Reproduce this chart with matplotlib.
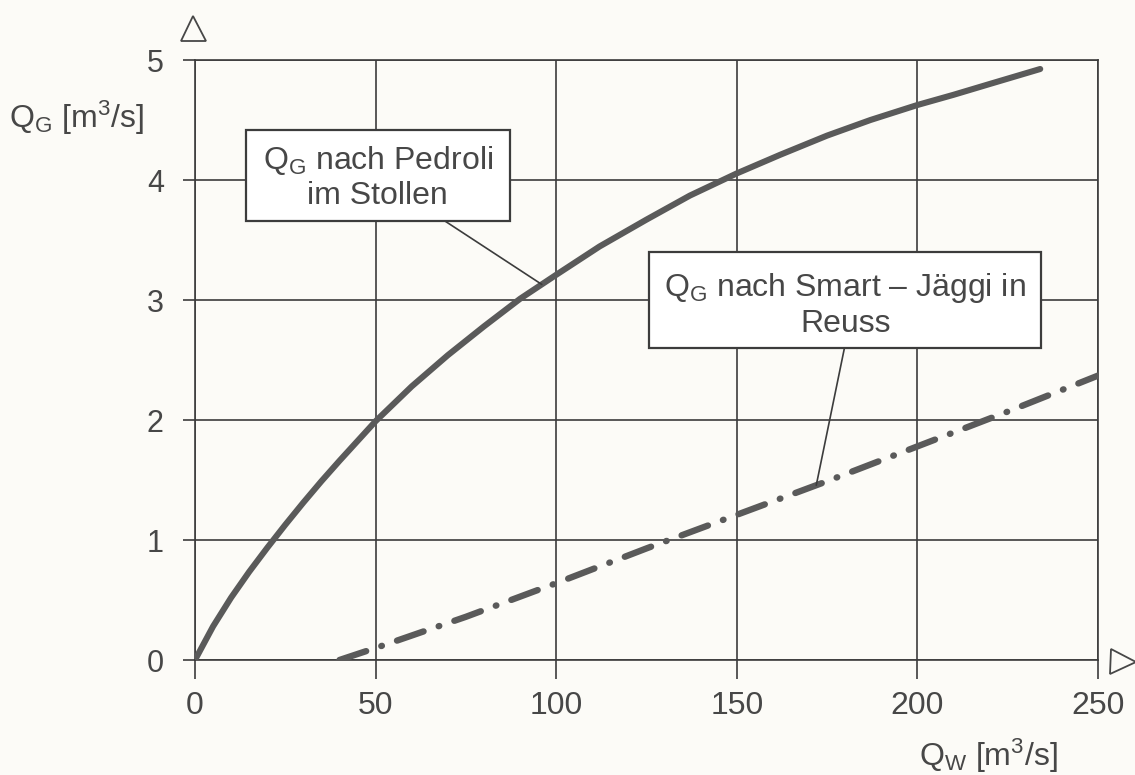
import numpy as np
import matplotlib
matplotlib.use("Agg")
import matplotlib.pyplot as plt
from matplotlib.patches import Rectangle

plt.rcParams['font.family'] = ['Liberation Sans', 'DejaVu Sans']
plt.rcParams['mathtext.fontset'] = 'custom'
plt.rcParams['mathtext.rm'] = 'Liberation Sans'
plt.rcParams['mathtext.it'] = 'Liberation Sans'
plt.rcParams['mathtext.bf'] = 'Liberation Sans:bold'

# ---- data ----
pedroli_q = [0, 5, 10, 15, 20, 25, 30, 35, 40, 45, 50, 60, 70, 80, 90, 100,
             112, 125, 137, 150, 162, 175, 187, 200, 210, 220, 234]
pedroli_g = [0, 0.28, 0.52, 0.735, 0.935, 1.127, 1.312, 1.49, 1.66, 1.825, 1.99, 2.28, 2.54, 2.78, 3.01, 3.21,
             3.446, 3.67, 3.87, 4.055, 4.21, 4.37, 4.50, 4.625, 4.71, 4.80, 4.925]

smart_q = [40, 50, 75, 100, 125, 150, 175, 200, 225, 250]
smart_g = [0, 0.10, 0.36, 0.64, 0.93, 1.21, 1.49, 1.78, 2.07, 2.37]

x_ticks = [0, 50, 100, 150, 200, 250]
y_ticks = [0, 1, 2, 3, 4, 5]

label_pedroli = r'$\mathregular{Q_G}$ nach Pedroli' + '\nim Stollen'
label_smart = r'$\mathregular{Q_G}$ nach Smart – Jäggi in' + '\nReuss'
ylabel = r'$\mathregular{Q_G}$ [m$^\mathregular{3}$/s]'
xlabel = r'$\mathregular{Q_W}$ [m$^\mathregular{3}$/s]'

# ---- styling ----
paper = '#fcfbf7'
grid_c = '#3c3c3c'
curve_c = '#5a5a5a'
text_c = '#474747'

W, H = 1135, 775
fig = plt.figure(figsize=(W / 100, H / 100), dpi=100, facecolor=paper)
ax = fig.add_axes([195 / W, 115 / H, 903 / W, 600 / H], facecolor=paper)

ax.set_xlim(0, 250)
ax.set_ylim(0, 5)
ax.set_xticks(x_ticks)
ax.set_yticks(y_ticks)
ax.grid(True, color=grid_c, linewidth=1.2, zorder=1)
for s in ax.spines.values():
    s.set_color(grid_c)
    s.set_linewidth(1.2)
ax.tick_params(axis='x', direction='out', length=13.5, width=1.2, color=grid_c,
               labelsize=23, labelcolor=text_c, pad=8.5)
ax.tick_params(axis='y', direction='out', length=8.5, width=1.2, color=grid_c,
               labelsize=22, labelcolor=text_c, pad=14)

# curves
ax.plot(pedroli_q, pedroli_g, color=curve_c, lw=4.4, solid_capstyle='round',
        solid_joinstyle='round', zorder=3)
ax.plot(smart_q, smart_g, color=curve_c, lw=4.6, dash_capstyle='round',
        dashes=(4.4, 2.5, 0.1, 2.5), zorder=3)

# annotation boxes
box_kw = dict(facecolor='white', edgecolor=grid_c, linewidth=1.6, zorder=5)
ax.add_patch(Rectangle((14.1, 3.66), 87.1 - 14.1, 4.42 - 3.66, **box_kw))
ax.add_patch(Rectangle((125.8, 2.60), 234.2 - 125.8, 3.40 - 2.60, **box_kw))
ax.text(50.6, 4.02, label_pedroli, ha='center', va='center', multialignment='center',
        fontsize=23, color=text_c, zorder=6, linespacing=1.15)
ax.text(180.0, 2.96, label_smart, ha='center', va='center', multialignment='center',
        fontsize=23, color=text_c, zorder=6, linespacing=1.15)

# leader lines
p_x = 96
ax.annotate('', xy=(p_x, np.interp(p_x, pedroli_q, pedroli_g)), xytext=(69.1, 3.66),
            arrowprops=dict(arrowstyle='-', color=grid_c, lw=1.2, shrinkA=0, shrinkB=0), zorder=4)
s_x = 172
ax.annotate('', xy=(s_x, np.interp(s_x, smart_q, smart_g)), xytext=(179.8, 2.60),
            arrowprops=dict(arrowstyle='-', color=grid_c, lw=1.2, shrinkA=0, shrinkB=0), zorder=4)

# axis arrows (open triangles)
ax.plot([-0.002], [1.053], marker='^', markersize=18, markerfacecolor='none',
        markeredgecolor=text_c, markeredgewidth=1.3, transform=ax.transAxes, clip_on=False)
ax.plot([1.028], [-0.003], marker='>', markersize=18, markerfacecolor='none',
        markeredgecolor=text_c, markeredgewidth=1.3, transform=ax.transAxes, clip_on=False)

# axis labels
fig.text(9 / W, 1 - 118 / H, ylabel, ha='left', va='center', fontsize=23, color=text_c)
fig.text(1058 / W, 1 - 756 / H, xlabel, ha='right', va='center', fontsize=23, color=text_c)

fig.savefig('out.png', dpi=100, facecolor=paper)
